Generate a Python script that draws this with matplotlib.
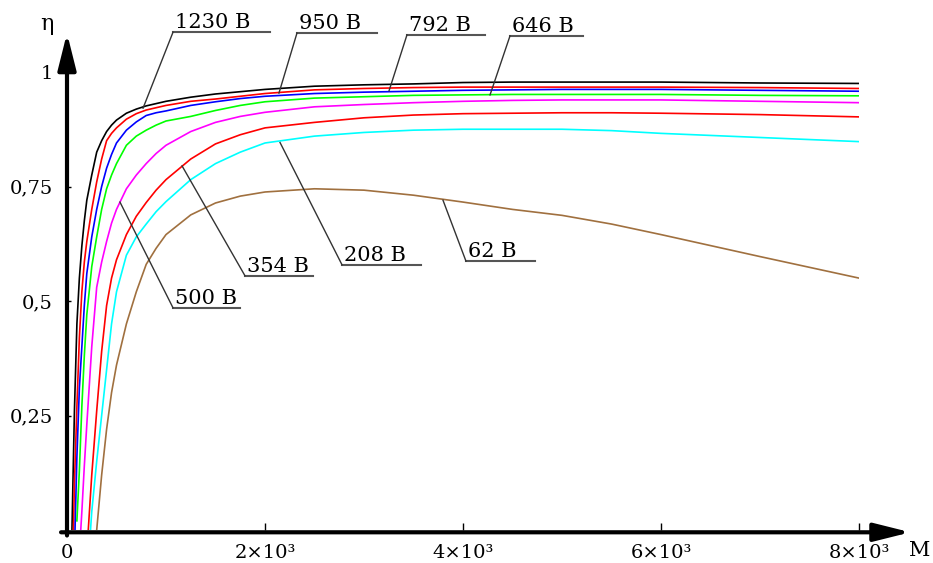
import numpy as np
import matplotlib.pyplot as plt

nan = np.nan

# момент M и КПД η для разных напряжений
M = [50, 75, 100, 125, 150, 175, 200, 250, 300, 350, 400, 450, 500, 600, 700, 800,
     900, 1000, 1250, 1500, 1750, 2000, 2500, 3000, 3500, 4000, 4500, 5000, 5500,
     6000, 7000, 8000]

eta_1230 = [0.0, 0.26, 0.45, 0.55, 0.62, 0.675, 0.72, 0.775, 0.825, 0.85, 0.87, 0.884,
            0.895, 0.91, 0.919, 0.926, 0.931, 0.936, 0.945, 0.952, 0.957, 0.962, 0.969,
            0.972, 0.974, 0.977, 0.978, 0.978, 0.978, 0.978, 0.976, 0.975]
eta_950 = [-0.15, 0.10, 0.27, 0.42, 0.52, 0.585, 0.63, 0.70, 0.76, 0.81, 0.85, 0.866,
           0.878, 0.897, 0.909, 0.917, 0.922, 0.927, 0.936, 0.941, 0.947, 0.953, 0.961,
           0.964, 0.966, 0.967, 0.967, 0.967, 0.967, 0.967, 0.966, 0.964]
eta_792 = [nan, -0.05, 0.16, 0.31, 0.40, 0.49, 0.56, 0.64, 0.70, 0.75, 0.79, 0.82,
           0.845, 0.873, 0.891, 0.905, 0.911, 0.915, 0.927, 0.935, 0.942, 0.947, 0.953,
           0.956, 0.958, 0.960, 0.961, 0.962, 0.962, 0.962, 0.960, 0.958]
eta_646 = [nan, nan, 0.02, 0.13, 0.27, 0.38, 0.47, 0.575, 0.64, 0.70, 0.745, 0.775,
           0.80, 0.84, 0.86, 0.873, 0.884, 0.893, 0.903, 0.916, 0.927, 0.935, 0.943,
           0.946, 0.949, 0.950, 0.951, 0.951, 0.951, 0.951, 0.949, 0.948]
eta_500 = [nan, nan, nan, -0.05, 0.04, 0.14, 0.23, 0.40, 0.53, 0.585, 0.63, 0.67,
           0.70, 0.745, 0.775, 0.80, 0.822, 0.84, 0.87, 0.89, 0.903, 0.912, 0.924,
           0.929, 0.933, 0.936, 0.938, 0.939, 0.939, 0.939, 0.936, 0.933]
eta_354 = [nan, nan, nan, nan, nan, nan, -0.05, 0.12, 0.26, 0.39, 0.49, 0.55,
           0.59, 0.645, 0.685, 0.715, 0.742, 0.765, 0.81, 0.843, 0.863, 0.878, 0.89,
           0.90, 0.906, 0.909, 0.910, 0.911, 0.911, 0.910, 0.907, 0.902]
eta_208 = [nan, nan, nan, nan, nan, nan, -0.12, 0.04, 0.15, 0.25, 0.35, 0.45,
           0.52, 0.60, 0.64, 0.668, 0.695, 0.717, 0.765, 0.80, 0.825, 0.845, 0.860,
           0.868, 0.873, 0.875, 0.875, 0.875, 0.872, 0.866, 0.857, 0.848]
eta_62 = [nan, nan, nan, nan, nan, nan, nan, -0.11, 0.0, 0.12, 0.22, 0.30,
          0.36, 0.45, 0.52, 0.58, 0.615, 0.645, 0.688, 0.714, 0.729, 0.738, 0.745,
          0.742, 0.731, 0.716, 0.70, 0.687, 0.668, 0.645, 0.597, 0.550]

series = [eta_1230, eta_950, eta_792, eta_646, eta_500, eta_354, eta_208, eta_62]
colors = ['#000000', '#ff0000', '#0000ff', '#00ff00', '#ff00ff', '#ff0000', '#00ffff', '#a0703f']

x_ticks = [0, 2000, 4000, 6000, 8000]
x_tick_labels = ['0', '2×10³', '4×10³', '6×10³', '8×10³']
y_ticks = [0.25, 0.5, 0.75, 1.0]
y_tick_labels = ['0,25', '0,5', '0,75', '1']

# подписи: текст, начало и конец черты, уровень черты, точка на кривой
labels = ['1230 В', '950 В', '792 В', '646 В', '500 В', '354 В', '208 В', '62 В']
label_layout = [
    (1071, 2051, 1.087, 768, 0.921),
    (2323, 3131, 1.085, 2141, 0.954),
    (3434, 4222, 1.081, 3253, 0.959),
    (4475, 5212, 1.079, 4273, 0.950),
    (1071, 1747, 0.485, 535, 0.716),
    (1798, 2485, 0.555, 1162, 0.795),
    (2778, 3576, 0.579, 2152, 0.846),
    (4030, 4727, 0.587, 3798, 0.72),
]

plt.rcParams['font.family'] = 'DejaVu Serif'

fig = plt.figure(figsize=(9.33, 5.63), dpi=100)
ax = fig.add_axes([67 / 933, 33 / 563, 792 / 933, 458 / 563])

for eta, c in zip(series, colors):
    ax.plot(M, eta, color=c, lw=1.2)

ax.set_xlim(0, 8000)
ax.set_ylim(0, 1)
for s in ax.spines.values():
    s.set_visible(False)

ax.set_xticks(x_ticks)
ax.set_xticklabels(x_tick_labels)
ax.set_yticks(y_ticks)
ax.set_yticklabels(y_tick_labels)
ax.tick_params(axis='x', direction='in', length=5, width=1, pad=10, labelsize=14)
ax.tick_params(axis='y', direction='in', length=3, width=1, pad=10, labelsize=14)

# оси со стрелками
arrow = dict(arrowstyle='-|>,head_length=1.0,head_width=0.25', lw=3, color='black',
             mutation_scale=22, shrinkA=0, shrinkB=0)
ax.annotate('', xy=(8520, -0.005), xytext=(-60, -0.005), arrowprops=arrow,
            annotation_clip=False)
ax.annotate('', xy=(0, 1.085), xytext=(0, -0.012), arrowprops=arrow,
            annotation_clip=False)
ax.text(-200, 1.105, 'η', fontsize=16, ha='center', va='center')
ax.text(8610, -0.044, 'M', fontsize=15, ha='center', va='center')

for text, (x0, x1, yl, xc, yc) in zip(labels, label_layout):
    ax.plot([x0, x1], [yl, yl], color='#555555', lw=1.5, clip_on=False)
    ax.plot([x0, xc], [yl, yc], color='#333333', lw=1.0, clip_on=False)
    ax.text(x0 + 20, yl + 0.008, text, fontsize=15, ha='left', va='baseline')

plt.savefig('out.png', dpi=100)
